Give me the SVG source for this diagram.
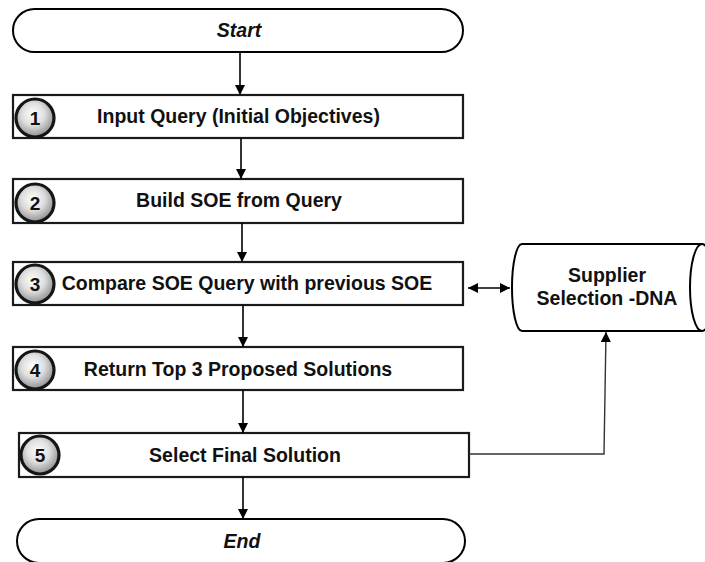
<svg xmlns="http://www.w3.org/2000/svg" width="705" height="562" viewBox="0 0 705 562">
<defs>
<radialGradient id="ball" cx="0.45" cy="0.4" r="0.6">
<stop offset="0" stop-color="#ffffff"/>
<stop offset="0.5" stop-color="#dedede"/>
<stop offset="1" stop-color="#8f8f8f"/>
</radialGradient>
<marker id="ah" viewBox="0 0 10 10" refX="10" refY="5" markerWidth="11" markerHeight="10" markerUnits="userSpaceOnUse" orient="auto-start-reverse">
<path d="M0,0 L10,5 L0,10 Z" fill="#000"/>
</marker>
</defs>
<style>
.term{fill:#fff;stroke:#000;stroke-width:2}
.box{fill:#fff;stroke:#1a1a1a;stroke-width:2.2}
.ball{fill:url(#ball);stroke:#151515;stroke-width:3.2}
.lbl{font-family:"Liberation Sans",Arial,sans-serif;font-weight:bold;font-size:19.5px;fill:#111;text-anchor:middle}
.it{font-style:italic}
.num{font-family:"Liberation Sans",Arial,sans-serif;font-weight:bold;font-size:19px;fill:#111;text-anchor:middle}
.con{fill:none;stroke:#000;stroke-width:1.6}
.con2{fill:none;stroke:#333;stroke-width:1.4}
</style>
<g id="start">
<rect class="term" x="13" y="9" width="450" height="43" rx="21.5"/>
<text class="lbl it" x="239" y="37">Start</text>
</g>
<g id="step1">
<rect class="box" x="13" y="95" width="450" height="43"/>
<circle class="ball" cx="35" cy="118" r="19"/>
<text class="num" x="35" y="125">1</text>
<text class="lbl" x="238.5" y="123">Input Query (Initial Objectives)</text>
</g>
<g id="step2">
<rect class="box" x="13" y="179" width="450" height="44"/>
<circle class="ball" cx="35" cy="203" r="19"/>
<text class="num" x="35" y="210">2</text>
<text class="lbl" x="239" y="207">Build SOE from Query</text>
</g>
<g id="step3">
<rect class="box" x="13" y="262" width="450" height="43"/>
<circle class="ball" cx="35" cy="284" r="19"/>
<text class="num" x="35" y="291">3</text>
<text class="lbl" x="247" y="290">Compare SOE Query with previous SOE</text>
</g>
<g id="step4">
<rect class="box" x="13" y="347" width="450" height="43"/>
<circle class="ball" cx="35" cy="370" r="19"/>
<text class="num" x="35" y="377">4</text>
<text class="lbl" x="238" y="376">Return Top 3 Proposed Solutions</text>
</g>
<g id="step5">
<rect class="box" x="19" y="433" width="450" height="44"/>
<circle class="ball" cx="40" cy="455" r="19"/>
<text class="num" x="40" y="462">5</text>
<text class="lbl" x="245" y="462">Select Final Solution</text>
</g>
<g id="end">
<rect class="term" x="17" y="519" width="448" height="44" rx="22"/>
<text class="lbl it" x="242" y="548">End</text>
</g>
<g id="dna">
<path class="term" d="M522,244 L702,244 A12,43.5 0 0 1 702,331 L522,331 A10,43.5 0 0 1 522,244 Z"/>
<path class="term" d="M702,244 A12,43.5 0 0 0 702,331"/>
<text class="lbl" x="607" y="282">Supplier</text>
<text class="lbl" x="607" y="305">Selection -DNA</text>
</g>
<g id="connectors">
<line class="con" x1="240" y1="52" x2="240" y2="95" marker-end="url(#ah)"/>
<line class="con" x1="241" y1="138" x2="241" y2="179" marker-end="url(#ah)"/>
<line class="con" x1="242" y1="223" x2="242" y2="262" marker-end="url(#ah)"/>
<line class="con" x1="243" y1="305" x2="243" y2="347" marker-end="url(#ah)"/>
<line class="con" x1="243" y1="390" x2="243" y2="433" marker-end="url(#ah)"/>
<line class="con" x1="243" y1="477" x2="243" y2="519" marker-end="url(#ah)"/>
<line class="con" x1="468" y1="288" x2="510" y2="288" marker-start="url(#ah)" marker-end="url(#ah)"/>
<path class="con2" d="M469,454 L604,454 L606,332" marker-end="url(#ah)"/>
</g>
</svg>
